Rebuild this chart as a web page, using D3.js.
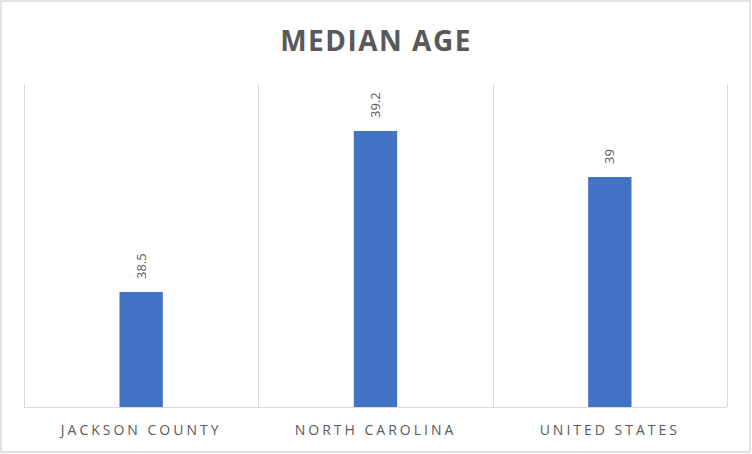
<!DOCTYPE html>
<html><head><meta charset="utf-8">
<script src="https://cdn.jsdelivr.net/npm/d3@7"></script>
<style>body{margin:0;background:#fff}svg{display:block}</style>
</head><body>
<script>
const categories = ["JACKSON COUNTY", "NORTH CAROLINA", "UNITED STATES"];
const values = [38.5, 39.2, 39];
const valueLabels = ["38.5", "39.2", "39"];
const title = "MEDIAN AGE";

(function () {
const W = 752, H = 454;
const svg = d3.select("body").append("svg").attr("width", W).attr("height", H);
svg.append("rect").attr("x", 1).attr("y", 1).attr("width", W - 3).attr("height", H - 3)
  .attr("fill", "#fff").attr("stroke", "#d9d9d9").attr("stroke-width", 1.5);

const pLeft = 24, pRight = 727, pTop = 85, pBottom = 407;
const x = d3.scaleBand().domain(categories).range([pLeft, pRight]).paddingInner(0).paddingOuter(0);
const y = d3.scaleLinear().domain([38, 39.4]).range([pBottom, pTop]);

const edges = categories.map(c => x(c)).concat([pRight]);
svg.selectAll("line.sep").data(edges).enter().append("line")
  .attr("x1", d => Math.round(d) + 0.5).attr("x2", d => Math.round(d) + 0.5)
  .attr("y1", pTop).attr("y2", pBottom)
  .attr("stroke", "#d9d9d9").attr("stroke-width", 1);

const bw = x.bandwidth() * 0.185;
svg.selectAll("rect.bar").data(values).enter().append("rect")
  .attr("x", (d, i) => x(categories[i]) + x.bandwidth() / 2 - bw / 2)
  .attr("width", bw)
  .attr("y", d => y(d)).attr("height", d => pBottom - y(d))
  .attr("fill", "#4472c4");

svg.append("line").attr("x1", pLeft).attr("x2", pRight).attr("y1", pBottom + 0.5).attr("y2", pBottom + 0.5)
  .attr("stroke", "#d9d9d9").attr("stroke-width", 1);

svg.selectAll("text.val").data(values).enter().append("text")
  .attr("transform", (d, i) => `translate(${x(categories[i]) + x.bandwidth() / 2 + 4.5},${y(d) - 13}) rotate(-90)`)
  .attr("text-anchor", "start")
  .attr("font-family", "Open Sans, Liberation Sans, sans-serif")
  .attr("font-size", 13).attr("fill", "#595959")
  .text((d, i) => valueLabels[i]);

svg.selectAll("text.cat").data(categories).enter().append("text")
  .attr("x", d => x(d) + x.bandwidth() / 2).attr("y", 435)
  .attr("text-anchor", "middle")
  .attr("font-family", "Open Sans, Liberation Sans, sans-serif")
  .attr("font-size", 14).attr("letter-spacing", 3).attr("fill", "#595959")
  .text(d => d);

svg.append("text").attr("x", 376).attr("y", 51).attr("text-anchor", "middle")
  .attr("font-family", "Open Sans, Liberation Sans, sans-serif")
  .attr("font-size", 28).attr("font-weight", "bold").attr("letter-spacing", 1.5)
  .attr("fill", "#595959").text(title);
})();
</script>
</body></html>
